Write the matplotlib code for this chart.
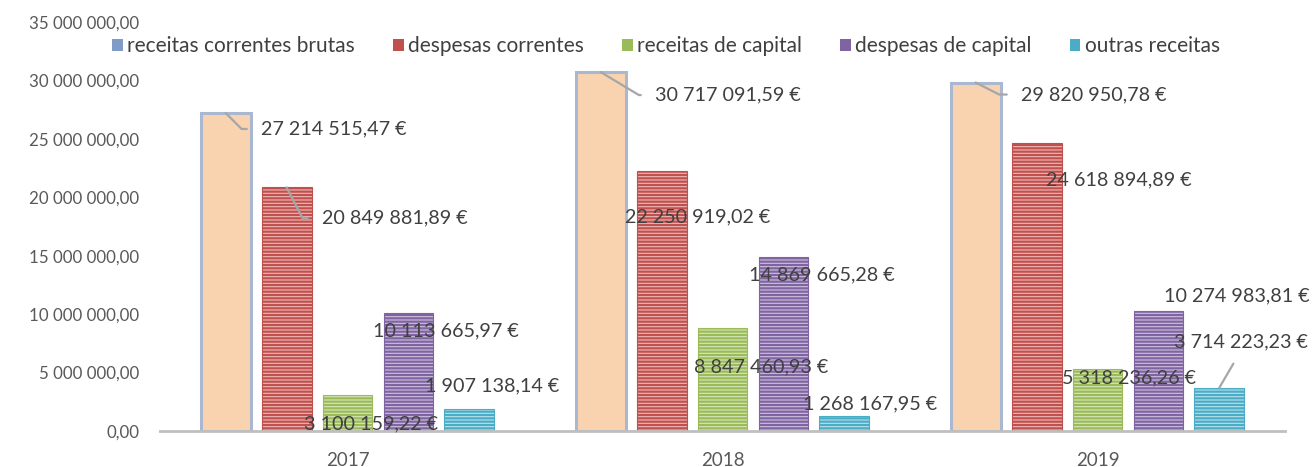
import matplotlib
matplotlib.use('Agg')
import matplotlib.pyplot as plt
from matplotlib.patches import Patch
from matplotlib.ticker import FuncFormatter
import numpy as np

# ---- data ----
years = ['2017', '2018', '2019']
series_names = ['receitas correntes brutas', 'despesas correntes', 'receitas de capital',
                'despesas de capital', 'outras receitas']
receitas_correntes_brutas = [27214515.47, 30717091.59, 29820950.78]
despesas_correntes = [20849881.89, 22250919.02, 24618894.89]
receitas_de_capital = [3100159.22, 8847460.93, 5318236.26]
despesas_de_capital = [10113665.97, 14869665.28, 10274983.81]
outras_receitas = [1907138.14, 1268167.95, 3714223.23]
y_ticks = [0, 5e6, 10e6, 15e6, 20e6, 25e6, 30e6, 35e6]

values = [receitas_correntes_brutas, despesas_correntes, receitas_de_capital,
          despesas_de_capital, outras_receitas]

# ---- styles ----
FONT = 'Lato'
plt.rcParams['font.family'] = [FONT, 'DejaVu Sans']
plt.rcParams['hatch.linewidth'] = 1.6
main_cols = ['#A9B8D0', '#C0504D', '#9BBB59', '#8064A2', '#4BACC6']
light_cols = ['#F9D3B0', '#EFB9B8', '#D7E6BC', '#CDC1DD', '#B9E2EC']
legend_cols = ['#7F9BC6', '#C0504D', '#9BBB59', '#8064A2', '#4BACC6']
text_col = '#404040'
leader_col = '#A6A6A6'

# label offsets (pixels): text-left relative to bar centre, text-centre relative to bar top
label_off = [
    [(35, -16), (54, -23), (45, -12)],
    [(35, -31), (-37, -46), (9, -37)],
    [(-44, -29), (-29, -39), (-35, -9)],
    [(-35, -18), (-34, -18), (6, 15)],
    [(-44, 23), (-41, 12), (-45, 46)],
]
# leader lines: (series, year) -> angleB
leaders = {(0, 0): -45, (1, 0): -62.6, (0, 1): -31, (0, 2): -27}

def fmt_num(v):
    s = f"{v:,.2f}"
    return s.replace(',', ' ').replace('.', ',')

fig = plt.figure(figsize=(13.12, 4.67), dpi=100)
ax = fig.add_axes([160 / 1312, 36 / 467, 1125 / 1312, 409 / 467])

x = np.arange(len(years))
width = 0.133
step = 0.1625
for i, (name, vals) in enumerate(zip(series_names, values)):
    pos = x + (i - 2) * step
    if i == 0:
        ax.bar(pos, vals, width, color=light_cols[i], edgecolor=main_cols[i], linewidth=2.2, zorder=2)
    else:
        ax.bar(pos, vals, width, color=light_cols[i], edgecolor=main_cols[i], linewidth=0.8,
               hatch='-----', zorder=2)
    for j, (p, v) in enumerate(zip(pos, vals)):
        dx, dy = label_off[i][j]
        kw = {}
        if (i, j) in leaders:
            kw['arrowprops'] = dict(arrowstyle='-', color=leader_col, lw=1.6, shrinkA=8, shrinkB=0,
                                    relpos=(0, 0.5),
                                    connectionstyle=f'angle,angleA=0,angleB={leaders[(i, j)]},rad=0')
        elif (i, j) == (4, 2):
            kw['arrowprops'] = dict(arrowstyle='-', color=leader_col, lw=1.6, shrinkA=9, shrinkB=0,
                                    relpos=(0.5, 0))
        ax.annotate(fmt_num(v) + ' €', xy=(p, v), xytext=(dx, dy), textcoords='offset pixels',
                    ha='left', va='center', fontsize=14.2, color=text_col, zorder=5, **kw)

ax.set_xlim(-0.5, 2.5)
ax.set_ylim(0, 35e6)
ax.set_yticks(y_ticks)
ax.yaxis.set_major_formatter(FuncFormatter(lambda v, p: fmt_num(v)))
ax.set_xticks(x)
ax.set_xticklabels(years)
ax.tick_params(axis='y', length=0, pad=15, labelsize=12.2, labelcolor='#595959')
ax.tick_params(axis='x', length=0, pad=15, labelsize=13.5, labelcolor='#595959')
for s in ['left', 'right', 'top']:
    ax.spines[s].set_visible(False)
ax.spines['bottom'].set_color('#BFBFBF')
ax.spines['bottom'].set_linewidth(2)
ax.spines['bottom'].set_zorder(3)

handles = [Patch(facecolor=legend_cols[i], edgecolor='none') for i in range(5)]
fig.legend(handles, series_names, loc='center', bbox_to_anchor=(666 / 1312, 1 - 46 / 467),
           ncol=5, frameon=False, fontsize=15, handlelength=0.5, handleheight=0.5,
           handletextpad=0.2, columnspacing=1.85, labelcolor=text_col, borderpad=0)

fig.savefig('out.png', dpi=100)
